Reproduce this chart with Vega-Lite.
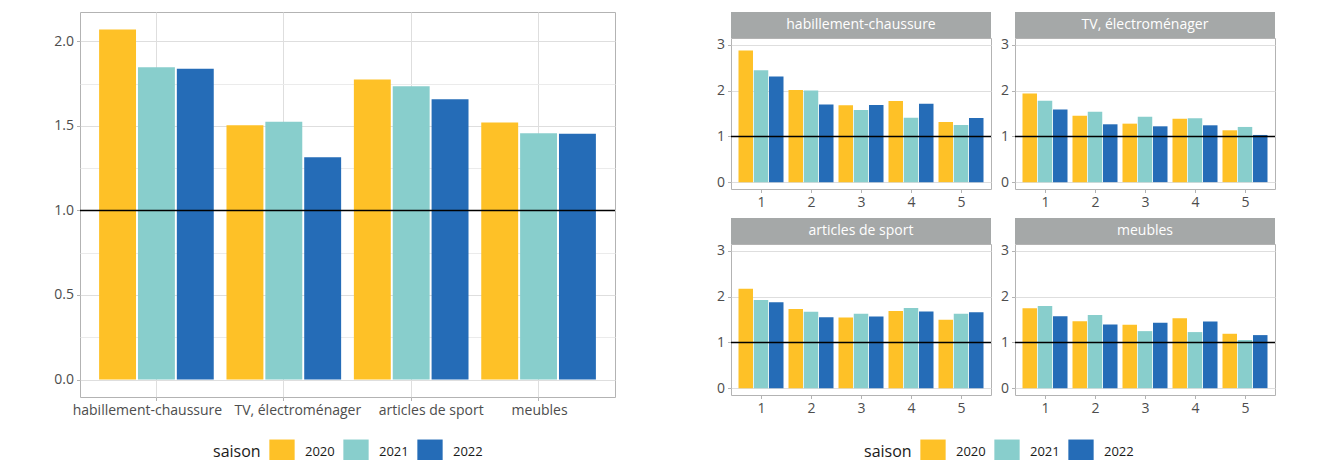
{
  "$schema": "https://vega.github.io/schema/vega-lite/v6.json",
  "background": "white",
  "padding": {"left": 53, "top": 11, "right": 0, "bottom": 0},
  "datasets": {
    "global": [
      {"cat": "habillement-chaussure", "saison": "2020", "ratio": 2.07},
      {"cat": "habillement-chaussure", "saison": "2021", "ratio": 1.846},
      {"cat": "habillement-chaussure", "saison": "2022", "ratio": 1.838},
      {"cat": "TV, électroménager", "saison": "2020", "ratio": 1.503},
      {"cat": "TV, électroménager", "saison": "2021", "ratio": 1.524},
      {"cat": "TV, électroménager", "saison": "2022", "ratio": 1.314},
      {"cat": "articles de sport", "saison": "2020", "ratio": 1.774},
      {"cat": "articles de sport", "saison": "2021", "ratio": 1.734},
      {"cat": "articles de sport", "saison": "2022", "ratio": 1.658},
      {"cat": "meubles", "saison": "2020", "ratio": 1.52},
      {"cat": "meubles", "saison": "2021", "ratio": 1.457},
      {"cat": "meubles", "saison": "2022", "ratio": 1.453}
    ],
    "detail": [
      {"cat": "habillement-chaussure", "mois": 1, "saison": "2020", "ratio": 2.876},
      {"cat": "habillement-chaussure", "mois": 1, "saison": "2021", "ratio": 2.447},
      {"cat": "habillement-chaussure", "mois": 1, "saison": "2022", "ratio": 2.309},
      {"cat": "habillement-chaussure", "mois": 2, "saison": "2020", "ratio": 2.012},
      {"cat": "habillement-chaussure", "mois": 2, "saison": "2021", "ratio": 2.004},
      {"cat": "habillement-chaussure", "mois": 2, "saison": "2022", "ratio": 1.699},
      {"cat": "habillement-chaussure", "mois": 3, "saison": "2020", "ratio": 1.678},
      {"cat": "habillement-chaussure", "mois": 3, "saison": "2021", "ratio": 1.576},
      {"cat": "habillement-chaussure", "mois": 3, "saison": "2022", "ratio": 1.685},
      {"cat": "habillement-chaussure", "mois": 4, "saison": "2020", "ratio": 1.772},
      {"cat": "habillement-chaussure", "mois": 4, "saison": "2021", "ratio": 1.409},
      {"cat": "habillement-chaussure", "mois": 4, "saison": "2022", "ratio": 1.714},
      {"cat": "habillement-chaussure", "mois": 5, "saison": "2020", "ratio": 1.314},
      {"cat": "habillement-chaussure", "mois": 5, "saison": "2021", "ratio": 1.249},
      {"cat": "habillement-chaussure", "mois": 5, "saison": "2022", "ratio": 1.402},
      {"cat": "TV, électroménager", "mois": 1, "saison": "2020", "ratio": 1.939},
      {"cat": "TV, électroménager", "mois": 1, "saison": "2021", "ratio": 1.779},
      {"cat": "TV, électroménager", "mois": 1, "saison": "2022", "ratio": 1.59},
      {"cat": "TV, électroménager", "mois": 2, "saison": "2020", "ratio": 1.452},
      {"cat": "TV, électroménager", "mois": 2, "saison": "2021", "ratio": 1.54},
      {"cat": "TV, électroménager", "mois": 2, "saison": "2022", "ratio": 1.264},
      {"cat": "TV, électroménager", "mois": 3, "saison": "2020", "ratio": 1.278},
      {"cat": "TV, électroménager", "mois": 3, "saison": "2021", "ratio": 1.431},
      {"cat": "TV, électroménager", "mois": 3, "saison": "2022", "ratio": 1.22},
      {"cat": "TV, électroménager", "mois": 4, "saison": "2020", "ratio": 1.387},
      {"cat": "TV, électroménager", "mois": 4, "saison": "2021", "ratio": 1.394},
      {"cat": "TV, électroménager", "mois": 4, "saison": "2022", "ratio": 1.242},
      {"cat": "TV, électroménager", "mois": 5, "saison": "2020", "ratio": 1.133},
      {"cat": "TV, électroménager", "mois": 5, "saison": "2021", "ratio": 1.206},
      {"cat": "TV, électroménager", "mois": 5, "saison": "2022", "ratio": 1.031},
      {"cat": "articles de sport", "mois": 1, "saison": "2020", "ratio": 2.174},
      {"cat": "articles de sport", "mois": 1, "saison": "2021", "ratio": 1.928},
      {"cat": "articles de sport", "mois": 1, "saison": "2022", "ratio": 1.877},
      {"cat": "articles de sport", "mois": 2, "saison": "2020", "ratio": 1.732},
      {"cat": "articles de sport", "mois": 2, "saison": "2021", "ratio": 1.667},
      {"cat": "articles de sport", "mois": 2, "saison": "2022", "ratio": 1.551},
      {"cat": "articles de sport", "mois": 3, "saison": "2020", "ratio": 1.543},
      {"cat": "articles de sport", "mois": 3, "saison": "2021", "ratio": 1.623},
      {"cat": "articles de sport", "mois": 3, "saison": "2022", "ratio": 1.565},
      {"cat": "articles de sport", "mois": 4, "saison": "2020", "ratio": 1.688},
      {"cat": "articles de sport", "mois": 4, "saison": "2021", "ratio": 1.754},
      {"cat": "articles de sport", "mois": 4, "saison": "2022", "ratio": 1.674},
      {"cat": "articles de sport", "mois": 5, "saison": "2020", "ratio": 1.493},
      {"cat": "articles de sport", "mois": 5, "saison": "2021", "ratio": 1.623},
      {"cat": "articles de sport", "mois": 5, "saison": "2022", "ratio": 1.659},
      {"cat": "meubles", "mois": 1, "saison": "2020", "ratio": 1.746},
      {"cat": "meubles", "mois": 1, "saison": "2021", "ratio": 1.797},
      {"cat": "meubles", "mois": 1, "saison": "2022", "ratio": 1.572},
      {"cat": "meubles", "mois": 2, "saison": "2020", "ratio": 1.464},
      {"cat": "meubles", "mois": 2, "saison": "2021", "ratio": 1.601},
      {"cat": "meubles", "mois": 2, "saison": "2022", "ratio": 1.391},
      {"cat": "meubles", "mois": 3, "saison": "2020", "ratio": 1.384},
      {"cat": "meubles", "mois": 3, "saison": "2021", "ratio": 1.246},
      {"cat": "meubles", "mois": 3, "saison": "2022", "ratio": 1.428},
      {"cat": "meubles", "mois": 4, "saison": "2020", "ratio": 1.529},
      {"cat": "meubles", "mois": 4, "saison": "2021", "ratio": 1.225},
      {"cat": "meubles", "mois": 4, "saison": "2022", "ratio": 1.457},
      {"cat": "meubles", "mois": 5, "saison": "2020", "ratio": 1.188},
      {"cat": "meubles", "mois": 5, "saison": "2021", "ratio": 1.051},
      {"cat": "meubles", "mois": 5, "saison": "2022", "ratio": 1.159}
    ],
    "strips": [
      {"cat": "habillement-chaussure"},
      {"cat": "TV, électroménager"},
      {"cat": "articles de sport"},
      {"cat": "meubles"}
    ],
    "reference": [{"ref": 1}]
  },
  "hconcat": [
    {
      "width": 535,
      "height": 385,
      "layer": [
        {
          "data": {"name": "global"},
          "mark": {"type": "bar"},
          "encoding": {
            "x": {"field": "cat", "type": "nominal", "title": null,
                  "sort": ["habillement-chaussure", "TV, électroménager", "articles de sport", "meubles"],
                  "scale": {"paddingInner": 0.1, "paddingOuter": 0.15},
                  "axis": {"labelAngle": 0, "bandPosition": 0.5, "grid": true, "title": null,
                           "labelOffset": {"condition": [
                             {"test": "datum.value === 'habillement-chaussure'", "value": -9},
                             {"test": "datum.value === 'TV, électroménager'", "value": 14},
                             {"test": "datum.value === 'articles de sport'", "value": 20}], "value": 1}}},
            "xOffset": {"field": "saison", "type": "nominal", "scale": {"paddingInner": 0.05}},
            "y": {"field": "ratio", "type": "quantitative", "title": null,
                  "scale": {"domain": [-0.1035, 2.1735], "nice": false, "zero": false},
                  "axis": {"values": [0, 0.25, 0.5, 0.75, 1, 1.25, 1.5, 1.75, 2],
                           "labelExpr": "datum.value % 0.5 === 0 ? format(datum.value, '.1f') : ''",
                           "gridColor": {"condition": {"test": "datum.value % 0.5 !== 0", "value": "#EBEBEB"}, "value": "#DEDEDE"},
                           "tickOpacity": {"condition": {"test": "datum.value % 0.5 !== 0", "value": 0}, "value": 1}}},
            "color": {"field": "saison", "type": "nominal",
                      "scale": {"domain": ["2020", "2021", "2022"], "range": ["#FEC127", "#88CECC", "#256CB7"]},
                      "legend": {"title": "saison", "legendX": 133, "legendY": 427}}
          }
        },
        {
          "data": {"name": "reference"},
          "mark": {"type": "rule", "color": "black", "strokeWidth": 1.5},
          "encoding": {"y": {"field": "ref", "type": "quantitative", "title": null}}
        }
      ]
    },
    {
      "columns": 2,
      "spacing": {"row": 8, "column": 6},
      "resolve": {"scale": {"xOffset": "independent"}},
      "concat": [
        {
          "spacing": 0, "bounds": "flush",
          "vconcat": [
            {"width": 260, "height": 26, "view": {"fill": "#A5A8A8", "stroke": null},
             "data": {"name": "strips"}, "transform": [{"filter": "datum.cat === 'habillement-chaussure'"}],
             "mark": {"type": "text", "color": "white", "fontSize": 14, "font": "Open Sans"},
             "encoding": {"text": {"field": "cat"}}},
            {"width": 260, "height": 151,
             "layer": [
               {"data": {"name": "detail"}, "transform": [{"filter": "datum.cat === 'habillement-chaussure'"}],
                "mark": {"type": "bar"},
                "encoding": {
                  "x": {"field": "mois", "type": "ordinal", "scale": {"paddingInner": 0.1, "paddingOuter": 0.15}, "axis": null},
                  "xOffset": {"field": "saison", "type": "nominal", "scale": {"paddingInner": 0.05}},
                  "y": {"field": "ratio", "type": "quantitative", "title": null,
                        "scale": {"domain": [-0.15, 3.15], "nice": false, "zero": false},
                        "axis": {"values": [0, 0.5, 1, 1.5, 2, 2.5, 3],
                                 "labelExpr": "datum.value % 1 === 0 ? format(datum.value, 'd') : ''",
                                 "gridColor": {"condition": {"test": "datum.value % 1 !== 0", "value": "#EBEBEB"}, "value": "#DEDEDE"},
                                 "tickOpacity": {"condition": {"test": "datum.value % 1 !== 0", "value": 0}, "value": 1}}},
                  "color": {"field": "saison", "type": "nominal",
                            "scale": {"domain": ["2020", "2021", "2022"], "range": ["#FEC127", "#88CECC", "#256CB7"]},
                            "legend": {"title": "saison", "legendX": 133, "legendY": 427}}
                }},
               {"data": {"name": "reference"},
                "mark": {"type": "rule", "color": "black", "strokeWidth": 1.5},
                "encoding": {
                  "x": {"datum": 0.4, "type": "quantitative", "scale": {"domain": [0.4, 5.6], "nice": false, "zero": false},
                        "axis": {"orient": "bottom", "title": null, "values": [0.5, 1, 1.5, 2, 2.5, 3, 3.5, 4, 4.5, 5, 5.5],
                                 "labelExpr": "datum.value % 1 === 0 ? format(datum.value, 'd') : ''",
                                 "gridColor": {"condition": {"test": "datum.value % 1 !== 0", "value": "#EBEBEB"}, "value": "#DEDEDE"},
                                 "tickOpacity": {"condition": {"test": "datum.value % 1 !== 0", "value": 0}, "value": 1}}},
                  "x2": {"datum": 5.6},
                  "y": {"field": "ref", "type": "quantitative", "title": null}
                }}
             ],
             "resolve": {"scale": {"x": "independent"}, "axis": {"x": "independent"}}}
          ]
        },
        {
          "spacing": 0, "bounds": "flush",
          "vconcat": [
            {"width": 260, "height": 26, "view": {"fill": "#A5A8A8", "stroke": null},
             "data": {"name": "strips"}, "transform": [{"filter": "datum.cat === 'TV, électroménager'"}],
             "mark": {"type": "text", "color": "white", "fontSize": 14, "font": "Open Sans"},
             "encoding": {"text": {"field": "cat"}}},
            {"width": 260, "height": 151,
             "layer": [
               {"data": {"name": "detail"}, "transform": [{"filter": "datum.cat === 'TV, électroménager'"}],
                "mark": {"type": "bar"},
                "encoding": {
                  "x": {"field": "mois", "type": "ordinal", "scale": {"paddingInner": 0.1, "paddingOuter": 0.15}, "axis": null},
                  "xOffset": {"field": "saison", "type": "nominal", "scale": {"paddingInner": 0.05}},
                  "y": {"field": "ratio", "type": "quantitative", "title": null,
                        "scale": {"domain": [-0.15, 3.15], "nice": false, "zero": false},
                        "axis": {"values": [0, 0.5, 1, 1.5, 2, 2.5, 3],
                                 "labelExpr": "datum.value % 1 === 0 ? format(datum.value, 'd') : ''",
                                 "gridColor": {"condition": {"test": "datum.value % 1 !== 0", "value": "#EBEBEB"}, "value": "#DEDEDE"},
                                 "tickOpacity": {"condition": {"test": "datum.value % 1 !== 0", "value": 0}, "value": 1}}},
                  "color": {"field": "saison", "type": "nominal",
                            "scale": {"domain": ["2020", "2021", "2022"], "range": ["#FEC127", "#88CECC", "#256CB7"]},
                            "legend": {"title": "saison", "legendX": 133, "legendY": 427}}
                }},
               {"data": {"name": "reference"},
                "mark": {"type": "rule", "color": "black", "strokeWidth": 1.5},
                "encoding": {
                  "x": {"datum": 0.4, "type": "quantitative", "scale": {"domain": [0.4, 5.6], "nice": false, "zero": false},
                        "axis": {"orient": "bottom", "title": null, "values": [0.5, 1, 1.5, 2, 2.5, 3, 3.5, 4, 4.5, 5, 5.5],
                                 "labelExpr": "datum.value % 1 === 0 ? format(datum.value, 'd') : ''",
                                 "gridColor": {"condition": {"test": "datum.value % 1 !== 0", "value": "#EBEBEB"}, "value": "#DEDEDE"},
                                 "tickOpacity": {"condition": {"test": "datum.value % 1 !== 0", "value": 0}, "value": 1}}},
                  "x2": {"datum": 5.6},
                  "y": {"field": "ref", "type": "quantitative", "title": null}
                }}
             ],
             "resolve": {"scale": {"x": "independent"}, "axis": {"x": "independent"}}}
          ]
        },
        {
          "spacing": 0, "bounds": "flush",
          "vconcat": [
            {"width": 260, "height": 26, "view": {"fill": "#A5A8A8", "stroke": null},
             "data": {"name": "strips"}, "transform": [{"filter": "datum.cat === 'articles de sport'"}],
             "mark": {"type": "text", "color": "white", "fontSize": 14, "font": "Open Sans"},
             "encoding": {"text": {"field": "cat"}}},
            {"width": 260, "height": 151,
             "layer": [
               {"data": {"name": "detail"}, "transform": [{"filter": "datum.cat === 'articles de sport'"}],
                "mark": {"type": "bar"},
                "encoding": {
                  "x": {"field": "mois", "type": "ordinal", "scale": {"paddingInner": 0.1, "paddingOuter": 0.15}, "axis": null},
                  "xOffset": {"field": "saison", "type": "nominal", "scale": {"paddingInner": 0.05}},
                  "y": {"field": "ratio", "type": "quantitative", "title": null,
                        "scale": {"domain": [-0.15, 3.15], "nice": false, "zero": false},
                        "axis": {"values": [0, 0.5, 1, 1.5, 2, 2.5, 3],
                                 "labelExpr": "datum.value % 1 === 0 ? format(datum.value, 'd') : ''",
                                 "gridColor": {"condition": {"test": "datum.value % 1 !== 0", "value": "#EBEBEB"}, "value": "#DEDEDE"},
                                 "tickOpacity": {"condition": {"test": "datum.value % 1 !== 0", "value": 0}, "value": 1}}},
                  "color": {"field": "saison", "type": "nominal",
                            "scale": {"domain": ["2020", "2021", "2022"], "range": ["#FEC127", "#88CECC", "#256CB7"]},
                            "legend": {"title": "saison", "legendX": 133, "legendY": 427}}
                }},
               {"data": {"name": "reference"},
                "mark": {"type": "rule", "color": "black", "strokeWidth": 1.5},
                "encoding": {
                  "x": {"datum": 0.4, "type": "quantitative", "scale": {"domain": [0.4, 5.6], "nice": false, "zero": false},
                        "axis": {"orient": "bottom", "title": null, "values": [0.5, 1, 1.5, 2, 2.5, 3, 3.5, 4, 4.5, 5, 5.5],
                                 "labelExpr": "datum.value % 1 === 0 ? format(datum.value, 'd') : ''",
                                 "gridColor": {"condition": {"test": "datum.value % 1 !== 0", "value": "#EBEBEB"}, "value": "#DEDEDE"},
                                 "tickOpacity": {"condition": {"test": "datum.value % 1 !== 0", "value": 0}, "value": 1}}},
                  "x2": {"datum": 5.6},
                  "y": {"field": "ref", "type": "quantitative", "title": null}
                }}
             ],
             "resolve": {"scale": {"x": "independent"}, "axis": {"x": "independent"}}}
          ]
        },
        {
          "spacing": 0, "bounds": "flush",
          "vconcat": [
            {"width": 260, "height": 26, "view": {"fill": "#A5A8A8", "stroke": null},
             "data": {"name": "strips"}, "transform": [{"filter": "datum.cat === 'meubles'"}],
             "mark": {"type": "text", "color": "white", "fontSize": 14, "font": "Open Sans"},
             "encoding": {"text": {"field": "cat"}}},
            {"width": 260, "height": 151,
             "layer": [
               {"data": {"name": "detail"}, "transform": [{"filter": "datum.cat === 'meubles'"}],
                "mark": {"type": "bar"},
                "encoding": {
                  "x": {"field": "mois", "type": "ordinal", "scale": {"paddingInner": 0.1, "paddingOuter": 0.15}, "axis": null},
                  "xOffset": {"field": "saison", "type": "nominal", "scale": {"paddingInner": 0.05}},
                  "y": {"field": "ratio", "type": "quantitative", "title": null,
                        "scale": {"domain": [-0.15, 3.15], "nice": false, "zero": false},
                        "axis": {"values": [0, 0.5, 1, 1.5, 2, 2.5, 3],
                                 "labelExpr": "datum.value % 1 === 0 ? format(datum.value, 'd') : ''",
                                 "gridColor": {"condition": {"test": "datum.value % 1 !== 0", "value": "#EBEBEB"}, "value": "#DEDEDE"},
                                 "tickOpacity": {"condition": {"test": "datum.value % 1 !== 0", "value": 0}, "value": 1}}},
                  "color": {"field": "saison", "type": "nominal",
                            "scale": {"domain": ["2020", "2021", "2022"], "range": ["#FEC127", "#88CECC", "#256CB7"]},
                            "legend": {"title": "saison", "legendX": 133, "legendY": 427}}
                }},
               {"data": {"name": "reference"},
                "mark": {"type": "rule", "color": "black", "strokeWidth": 1.5},
                "encoding": {
                  "x": {"datum": 0.4, "type": "quantitative", "scale": {"domain": [0.4, 5.6], "nice": false, "zero": false},
                        "axis": {"orient": "bottom", "title": null, "values": [0.5, 1, 1.5, 2, 2.5, 3, 3.5, 4, 4.5, 5, 5.5],
                                 "labelExpr": "datum.value % 1 === 0 ? format(datum.value, 'd') : ''",
                                 "gridColor": {"condition": {"test": "datum.value % 1 !== 0", "value": "#EBEBEB"}, "value": "#DEDEDE"},
                                 "tickOpacity": {"condition": {"test": "datum.value % 1 !== 0", "value": 0}, "value": 1}}},
                  "x2": {"datum": 5.6},
                  "y": {"field": "ref", "type": "quantitative", "title": null}
                }}
             ],
             "resolve": {"scale": {"x": "independent"}, "axis": {"x": "independent"}}}
          ]
        }
      ]
    }
  ],
  "spacing": 98,
  "resolve": {"scale": {"color": "independent", "xOffset": "independent"}, "legend": {"color": "independent"}},
  "config": {
    "font": "Open Sans",
    "view": {"stroke": "#B3B3B3", "strokeWidth": 1},
    "axis": {
      "labelFont": "Open Sans", "labelFontSize": 14, "labelColor": "#4D4D4D",
      "tickColor": "#B3B3B3", "tickSize": 3.5, "tickWidth": 1, "labelPadding": 3,
      "domain": false, "grid": true, "gridColor": "#DEDEDE", "gridWidth": 1,
      "labelFlush": false, "labelOverlap": false
    },
    "legend": {
      "orient": "none", "direction": "horizontal", "titleOrient": "left",
      "symbolType": "square", "symbolSize": 640, "symbolStrokeWidth": 0, "symbolOpacity": 1,
      "labelFont": "Open Sans", "labelFontSize": 13, "labelColor": "#1A1A1A", "labelOffset": 10,
      "titleFont": "Open Sans", "titleFontSize": 16, "titleFontWeight": "normal", "titleColor": "#1A1A1A",
      "titlePadding": 8, "columnPadding": 8, "padding": 0, "titleBaseline": "middle"
    }
  }
}
